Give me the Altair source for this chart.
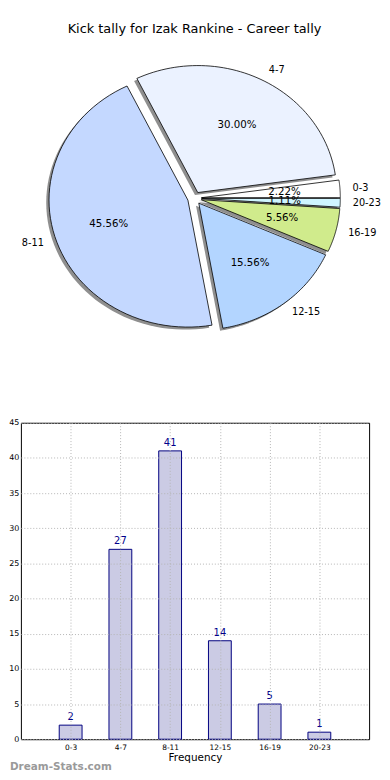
import altair as alt
import pandas as pd

title_text = "Kick tally for Izak Rankine - Career tally"
categories = ["0-3", "4-7", "8-11", "12-15", "16-19", "20-23"]
counts = [2, 27, 41, 14, 5, 1]
slice_colors = ["#ffffff", "#ebf2ff", "#c4d8ff", "#b3d5ff", "#d0eb8c", "#cff5ff"]
x_axis_title = "Frequency"
y_ticks = [0, 5, 10, 15, 20, 25, 30, 35, 40, 45]
watermark = "Dream-Stats.com"

df = pd.DataFrame({"cat": categories, "val": counts, "k": list(range(len(categories)))})

FONT = "DejaVu Sans"
N = 60
EXPLODE = 0.05
SHADOW = 0.02
LABEL_DIST = 1.09
PCT_DIST = 0.6

# pie panel geometry (elliptical pie like the original)
RX, RY = 140.0, 128.0
CXP, CYP = 175.0, 187.6
W1, H1 = 350, 388
XMIN = -CXP / RX
XMAX = XMIN + W1 / RX
YMAX = CYP / RY
YMIN = YMAX - H1 / RY

xs = alt.Scale(domain=[XMIN, XMAX], nice=False, zero=False)
ys = alt.Scale(domain=[YMIN, YMAX], nice=False, zero=False)

base = (
    alt.Chart(df)
    .transform_joinaggregate(total="sum(val)")
    .transform_window(cum="sum(val)", sort=[alt.SortField("k")])
    .transform_calculate(a="(datum.cum - datum.val) / datum.total")
    .transform_calculate(b="datum.cum / datum.total")
    .transform_calculate(mid="PI * (datum.a + datum.b)")
    .transform_calculate(ox=f"{EXPLODE} * cos(datum.mid)")
    .transform_calculate(oy=f"{EXPLODE} * sin(datum.mid)")
)

poly = (
    base.transform_calculate(seq=f"sequence(-1, {N + 1})")
    .transform_flatten(["seq"], as_=["i"])
    .transform_calculate(t=f"2*PI*(datum.a + (datum.b - datum.a) * clamp(datum.i, 0, {N - 1}) / {N - 1})")
    .transform_calculate(edge=f"(datum.i < 0 || datum.i > {N - 1}) ? 0 : 1")
    .transform_calculate(px="datum.ox + datum.edge * cos(datum.t)")
    .transform_calculate(py="datum.oy + datum.edge * sin(datum.t)")
    .transform_calculate(sx=f"datum.px - {SHADOW}")
    .transform_calculate(sy=f"datum.py - {SHADOW}")
)

shadow = poly.mark_line(fill="#8f8f8f", stroke="#8f8f8f", strokeWidth=0).encode(
    x=alt.X("sx:Q", scale=xs, axis=None),
    y=alt.Y("sy:Q", scale=ys, axis=None),
    detail="cat:N",
    order="i:Q",
)

wedges = poly.mark_line(stroke="black", strokeWidth=0.8).encode(
    x=alt.X("px:Q", scale=xs, axis=None),
    y=alt.Y("py:Q", scale=ys, axis=None),
    detail="cat:N",
    fill=alt.Fill("cat:N", scale=alt.Scale(domain=categories, range=slice_colors), legend=None),
    order="i:Q",
)

labs = (
    base.transform_calculate(lx=f"datum.ox + {LABEL_DIST} * cos(datum.mid)")
    .transform_calculate(ly=f"datum.oy + {LABEL_DIST} * sin(datum.mid)")
)
lab_right = labs.transform_filter("datum.lx > 0").mark_text(
    align="left", baseline="middle", font=FONT, fontSize=9.8, color="black"
).encode(x=alt.X("lx:Q", scale=xs, axis=None), y=alt.Y("ly:Q", scale=ys, axis=None), text="cat:N")
lab_left = labs.transform_filter("datum.lx <= 0").mark_text(
    align="right", baseline="middle", font=FONT, fontSize=9.8, color="black"
).encode(x=alt.X("lx:Q", scale=xs, axis=None), y=alt.Y("ly:Q", scale=ys, axis=None), text="cat:N")

pct = (
    base.transform_calculate(qx=f"datum.ox + {PCT_DIST} * cos(datum.mid)")
    .transform_calculate(qy=f"datum.oy + {PCT_DIST} * sin(datum.mid)")
    .transform_calculate(ptxt="format(100 * datum.val / datum.total, '.2f') + '%'")
    .mark_text(align="center", baseline="middle", font=FONT, fontSize=10.3, color="black")
    .encode(x=alt.X("qx:Q", scale=xs, axis=None), y=alt.Y("qy:Q", scale=ys, axis=None), text="ptxt:N")
)

title_layer = alt.Chart(pd.DataFrame({"t": [title_text]})).mark_text(
    align="center", baseline="middle", font=FONT, fontSize=13, color="black"
).encode(text="t:N", x=alt.value(175), y=alt.value(17))

pie = alt.layer(shadow, wedges, lab_right, lab_left, pct, title_layer).properties(
    width=W1, height=H1, view=alt.ViewBackground(stroke="transparent")
)

# bar chart
xb = alt.X(
    "cat:N",
    sort=categories,
    scale=alt.Scale(type="point", padding=1.01),
    axis=alt.Axis(
        title=x_axis_title, labelAngle=0, grid=True, gridColor="#b5b5b5", gridDash=[1, 2],
        ticks=False, domain=False, labelFont=FONT, labelFontSize=7.5, labelColor="black",
        labelPadding=4, titleFont=FONT, titleFontSize=10.5, titleFontWeight="normal",
        titleColor="black", titlePadding=2, zindex=1,
    ),
)
yb = alt.Y(
    "val:Q",
    scale=alt.Scale(domain=[0, 45], nice=False),
    axis=alt.Axis(
        values=y_ticks, title=None, grid=True, gridColor="#b5b5b5", gridDash=[1, 2],
        ticks=False, domain=False, labelFont=FONT, labelFontSize=8, labelColor="black",
        labelPadding=2, zindex=1,
    ),
)

bars = alt.Chart(df).mark_bar(size=23, fill="#cbcbe4", stroke="#000080", strokeWidth=1).encode(x=xb, y=yb)
vals = alt.Chart(df).mark_text(
    dy=-3, baseline="bottom", align="center", font=FONT, fontSize=10, color="#00008b"
).encode(x=xb, y=yb, text="val:Q")
wm = alt.Chart(pd.DataFrame({"w": [watermark]})).mark_text(
    align="left", baseline="middle", font=FONT, fontSize=10.5, fontWeight="bold", color="#9a9a9a"
).encode(text="w:N", x=alt.value(-11), y=alt.value(347))

bar = alt.layer(bars, vals, wm).properties(
    width=351, height=319, view=alt.ViewBackground(stroke="black", strokeWidth=1)
)

chart = alt.vconcat(pie, bar, spacing=20).properties(
    padding={"left": 0, "top": 0, "right": 0, "bottom": 0}
).configure(font=FONT)

chart.save("out.html", embed_options={"renderer": "svg", "actions": False})
